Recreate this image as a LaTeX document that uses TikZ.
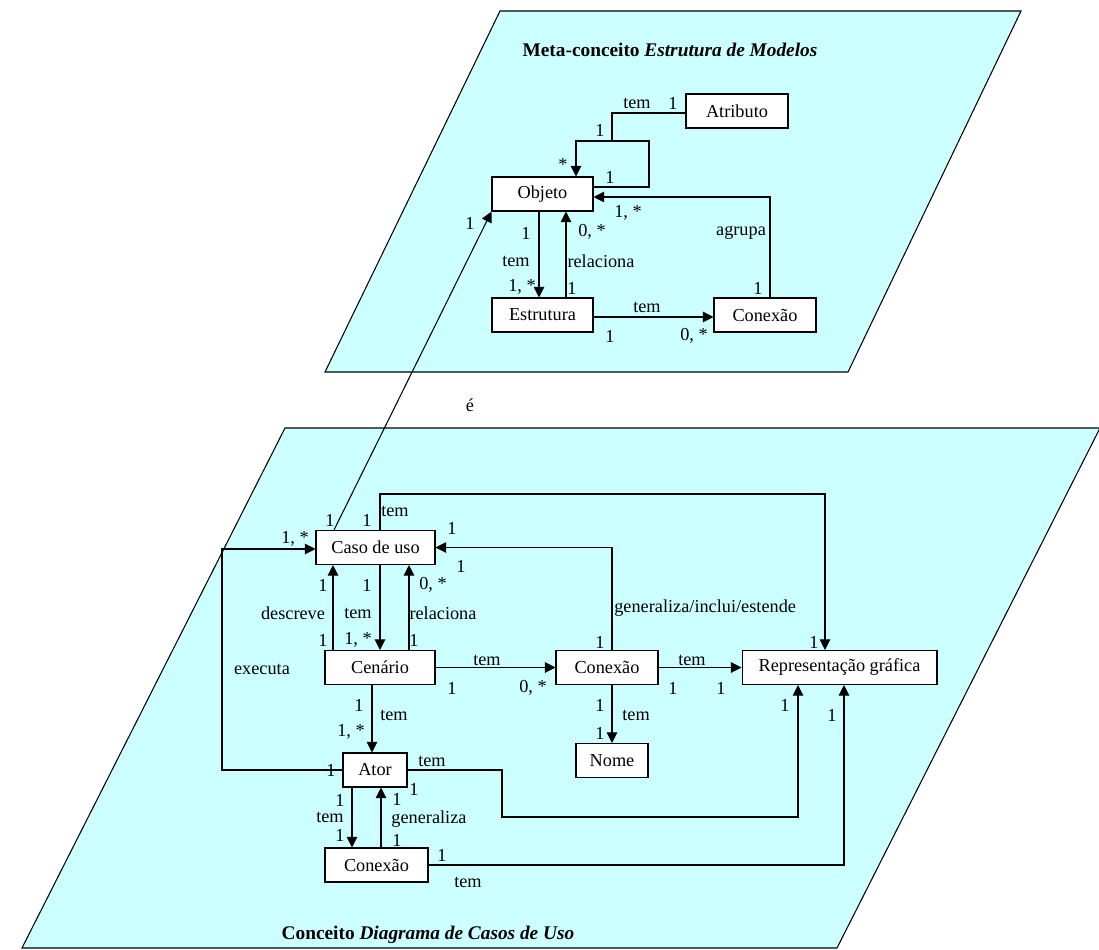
\documentclass[tikz,border=0pt]{standalone}
\usepackage{fontspec}
\setmainfont{Liberation Serif}
\usetikzlibrary{arrows.meta, positioning}
\definecolor{plano}{RGB}{204,255,255}
\tikzset{
  caixa/.style={draw, fill=white, line width=0.6pt, inner sep=0pt, minimum height=0.68cm, font=\fontsize{10.4}{12}\selectfont},
  rot/.style={inner sep=0pt, font=\fontsize{10.4}{12}\selectfont},
  assoc/.style={line width=0.6pt},
  seta/.style={assoc, -{Triangle[length=6pt,width=6pt]}},
  titulo/.style={inner sep=0pt, font=\fontsize{11}{13}\selectfont\bfseries}
}
\begin{document}
\begin{tikzpicture}[x=0.02cm, y=-0.02cm]
  \useasboundingbox (0,0) rectangle (1099,950);
  % Planos
  \draw[fill=plano, line width=0.6pt] (500,11) -- (1021,11) -- (848,372) -- (325,372) -- cycle;
  \draw[fill=plano, line width=0.6pt] (285,428) -- (1100,428) -- (837,948) -- (22,948) -- cycle;
  \node[titulo] (tit1) at (670,50) {Meta-conceito \textit{Estrutura de Modelos}};
  \node[titulo] (tit2) at (428,935) {Conceito \textit{Diagrama de Casos de Uso}};

  % Meta-conceito
  \node[caixa, minimum width=2.04cm] (atributo) at (737,111) {Atributo};
  \node[caixa, minimum width=2.02cm] (objeto) at (542.5,194) {Objeto};
  \node[caixa, minimum width=2.02cm] (estrutura) at (542.5,315) {Estrutura};
  \node[caixa, minimum width=2.04cm] (conexaoA) at (765,315) {Conexão};
  \coordinate (juncao) at (612,141);

  \draw[seta] (objeto.east |- 0,187) -| (649,141) -| (objeto.north -| 576,0);
  \draw[assoc] (atributo.west |- 0,113) -| (juncao);
  \draw[seta] (conexaoA.north -| 770,0) |- (objeto.east |- 0,197);
  \draw[seta] (objeto.south -| 539,0) -- (estrutura.north -| 539,0);
  \draw[seta] (estrutura.north -| 566,0) -- (objeto.south -| 566,0);
  \draw[seta] (estrutura.east |- 0,317) -- (conexaoA.west |- 0,317);

  \node[rot] at (637,103) {tem};
  \node[rot] at (673,103) {1};
  \node[rot] at (600,130) {1};
  \node[rot] at (563,165) {*};
  \node[rot] at (610,177) {1};
  \node[rot] at (628,213) {1, *};
  \node[rot] at (741,233) {agrupa};
  \node[rot] at (758,288) {1};
  \node[rot] at (526,233) {1};
  \node[rot] at (516,261) {tem};
  \node[rot] at (522,287) {1, *};
  \node[rot] at (592,232) {0, *};
  \node[rot] at (601,261) {relaciona};
  \node[rot] at (572,288) {1};
  \node[rot] at (647,307) {tem};
  \node[rot] at (610,336) {1};
  \node[rot] at (694,336) {0, *};

  % Conceito
  \node[caixa, minimum width=2.38cm] (casouso) at (375.5,547.5) {Caso de uso};
  \node[caixa, minimum width=2.2cm] (cenario) at (380,667.5) {Cenário};
  \node[caixa, minimum width=2.04cm] (conexaoB) at (607,667.5) {Conexão};
  \node[caixa, minimum width=3.9cm] (repgraf) at (839.5,667.5) {Representação gráfica};
  \node[caixa, minimum width=1.44cm] (nome) at (612,760.5) {Nome};
  \node[caixa, minimum width=1.28cm] (ator) at (375,770) {Ator};
  \node[caixa, minimum width=2.06cm] (conexaoC) at (376.5,865) {Conexão};

  % é
  \draw[seta] (casouso.north -| 334,0) -- (objeto.south west);
  \node[rot] at (470,223) {1};
  \node[rot] at (470,405) {é};

  \draw[seta] (ator.west) -| (222,549) -- (casouso.west |- 0,549);
  \draw[seta] (cenario.north -| 333,0) -- (casouso.south -| 333,0);
  \draw[seta] (casouso.south -| 380,0) -- (cenario.north -| 380,0);
  \draw[seta] (cenario.north -| 409,0) -- (casouso.south -| 409,0);
  \draw[seta] (conexaoB.north -| 612,0) |- (casouso.east);
  \draw[seta] (casouso.north -| 380,0) |- (825,494) -- (repgraf.north -| 825,0);
  \draw[seta] (cenario.east) -- (conexaoB.west);
  \draw[seta] (conexaoB.east) -- (repgraf.west);
  \draw[seta] (conexaoB.south -| nome.north) -- (nome.north);
  \draw[seta] (cenario.south -| 372,0) -- (ator.north -| 372,0);
  \draw[seta] (ator.east) -| (502,817) -| (repgraf.south -| 798,0);
  \draw[seta] (conexaoC.east) -| (repgraf.south -| 844,0);
  \draw[seta] (ator.south -| 352,0) -- (conexaoC.north -| 352,0);
  \draw[seta] (conexaoC.north -| 381,0) -- (ator.south -| 381,0);

  \node[rot] at (330,520) {1};
  \node[rot] at (367,520) {1};
  \node[rot] at (395,511) {tem};
  \node[rot] at (295,539) {1, *};
  \node[rot] at (262,669) {executa};
  \node[rot] at (331,770) {1};
  \node[rot] at (452,528) {1};
  \node[rot] at (461,566) {1};
  \node[rot] at (323,585) {1};
  \node[rot] at (293,613) {descreve};
  \node[rot] at (323,640) {1};
  \node[rot] at (367,585) {1};
  \node[rot] at (358,613) {tem};
  \node[rot] at (358,640) {1, *};
  \node[rot] at (433,585) {0, *};
  \node[rot] at (443,613) {relaciona};
  \node[rot] at (414,640) {1};
  \node[rot, anchor=west] at (614,608) {generaliza/inclui/estende};
  \node[rot] at (600,642) {1};
  \node[rot] at (814,642) {1};
  \node[rot] at (487,660) {tem};
  \node[rot] at (452,688) {1};
  \node[rot] at (533,688) {0, *};
  \node[rot] at (692,660) {tem};
  \node[rot] at (673,688) {1};
  \node[rot] at (721,688) {1};
  \node[rot] at (600,705) {1};
  \node[rot] at (636,715) {tem};
  \node[rot] at (600,733) {1};
  \node[rot] at (359,705) {1};
  \node[rot] at (394,715) {tem};
  \node[rot] at (351,732) {1, *};
  \node[rot] at (432,761) {tem};
  \node[rot] at (414,789) {1};
  \node[rot] at (785,705) {1};
  \node[rot] at (832,715) {1};
  \node[rot] at (340,800) {1};
  \node[rot] at (330,817) {tem};
  \node[rot] at (340,835) {1};
  \node[rot] at (397,799) {1};
  \node[rot] at (429,819) {generaliza};
  \node[rot] at (397,840) {1};
  \node[rot] at (442,855) {1};
  \node[rot] at (468,882) {tem};
\end{tikzpicture}
\end{document}
